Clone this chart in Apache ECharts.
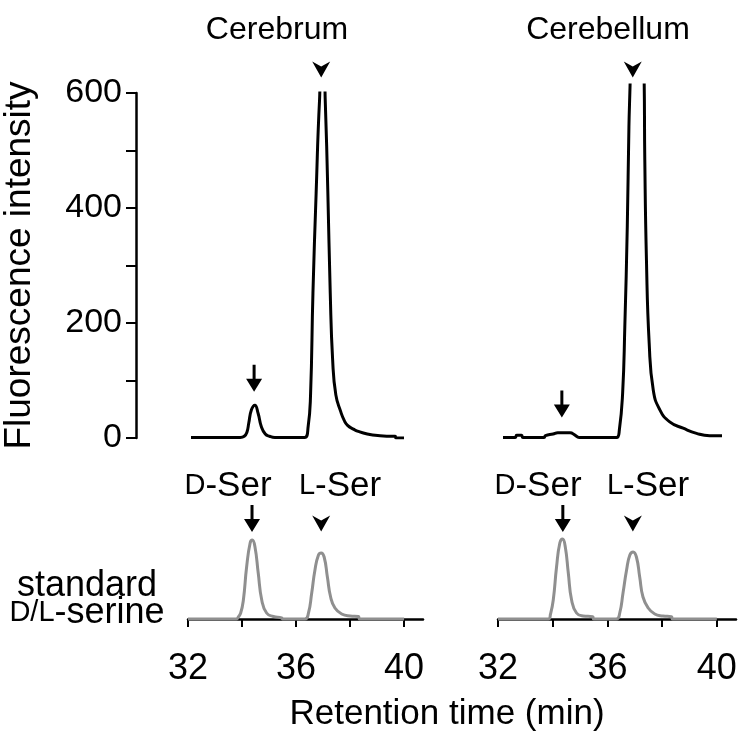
<!DOCTYPE html>
<html>
<head>
<meta charset="utf-8">
<script src="https://cdn.jsdelivr.net/npm/echarts@6/dist/echarts.min.js"></script>
<style>
html,body{margin:0;padding:0;background:#fff;}
#chart{width:748px;height:739px;}
</style>
</head>
<body>
<div id="chart"></div>
<script>
// ---- Data ----
const cerebrumTime   = [32.0, 33.85, 34.0, 34.1, 34.17, 34.27, 34.40, 34.52, 34.64, 34.79, 34.95, 35.15, 36.27, 36.40, 36.49, 36.58, 36.70, 36.83, 36.90, 37.00, 37.04, 37.14, 37.23, 37.32, 37.44, 37.63, 37.75, 37.88, 38.12, 38.25, 38.62, 39.1, 39.6, 39.67, 39.7, 40.0];
const cerebrumSignal = [1, 1, 3, 10, 26, 49, 57, 43, 20, 7, 3, 1, 1, 20, 75, 252, 426, 590, 615, 615, 590, 426, 252, 136, 75, 45, 31, 22, 15, 12, 7, 4, 3, 3, 0, 0];

const cerebellumTime   = [32.0, 32.45, 32.5, 32.68, 32.72, 33.5, 33.55, 33.83, 34.0, 34.45, 34.63, 34.78, 36.15, 36.25, 36.37, 36.45, 36.54, 36.60, 36.64, 36.90, 37.15, 37.18, 37.24, 37.34, 37.49, 37.73, 38.09, 38.58, 39.07, 39.55, 40.0];
const cerebellumSignal = [1, 1, 5, 5, 1, 1, 4, 7, 9, 9, 5, 1, 1, 14, 78, 194, 368, 541, 611, 1100, 640, 483, 310, 165, 83, 49, 28, 17, 8, 4, 4];

const standardLTime   = [32.0, 33.8, 33.85, 33.95, 34.05, 34.17, 34.30, 34.38, 34.48, 34.60, 34.73, 34.91, 35.16, 35.47, 35.5, 36.33, 36.46, 36.58, 36.70, 36.83, 36.93, 37.04, 37.16, 37.28, 37.44, 37.69, 38.0, 38.31, 38.35, 40.0];
const standardLSignal = [0, 0, 1.5, 6, 19, 52, 76, 79, 72, 46, 19, 6, 2.5, 1, 0, 0, 6, 26, 49, 64, 66, 62, 42, 22, 11, 5, 3, 2.5, 0, 0];

const standardRTime   = [32.0, 33.84, 33.92, 34.02, 34.14, 34.26, 34.36, 34.46, 34.57, 34.69, 34.87, 35.11, 35.46, 35.5, 36.33, 36.45, 36.57, 36.70, 36.82, 36.94, 37.06, 37.18, 37.30, 37.49, 37.73, 38.03, 38.34, 38.38, 40.0];
const standardRSignal = [0, 0, 5, 19, 52, 76, 80, 72, 46, 19, 6, 3, 2.3, 0, 0, 6, 26, 49, 64, 67, 62, 42, 22, 11, 5, 3, 2.3, 0, 0];

// arrow annotations (time, value) per panel
const dArrowTop  = [[34.37, 104], [34.15, 59]];
const lHeadTop   = [[36.89, 641], [36.74, 641]];
const dArrowStd  = [[34.37, 100.5], [34.37, 100.5]];
const lHeadStd   = [[36.93, 95.5], [36.93, 95.5]];

const yTicks = [0, 200, 400, 600];
const xTickValues = [32, 34, 36, 38, 40];
const xLabelValues = [32, 36, 40];

const panelTitles = ['Cerebrum', 'Cerebellum'];

// ---- Build ----
const zip = (a, b) => a.map((v, i) => [v, b[i]]);
const FONT = 'Liberation Sans';
const ARROW = 'path://M6.5,0 L9.5,0 L9.5,14 L16,14 L8,27 L0,14 L6.5,14 Z';
const HEAD = 'path://M0,0 L9,5 L18,0 L9,16 Z';

const chart = echarts.init(document.getElementById('chart'), null, {renderer: 'canvas'});

const hiddenX = (i) => ({gridIndex: i, type: 'value', min: 32, max: 40, show: false});
const bottomX = (i) => ({
  gridIndex: i, type: 'value', min: 32, max: 40.7, position: 'bottom',
  axisLine: {show: true, lineStyle: {color: '#000', width: 2.5}},
  axisTick: {show: true, inside: false, length: 8, lineStyle: {color: '#000', width: 2}, customValues: xTickValues},
  axisLabel: {show: true, margin: 10, color: '#000', fontFamily: FONT, fontSize: 36, customValues: xLabelValues},
  splitLine: {show: false}
});

const lineSeries = (xi, t, s, color) => ({
  type: 'line', xAxisIndex: xi, yAxisIndex: xi, data: zip(t, s),
  showSymbol: false, symbol: 'none', smooth: 0.5, clip: true,
  lineStyle: {color: color, width: 3}, silent: true, animation: false
});
const markSeries = (xi, pts, sym, size) => ({
  type: 'scatter', xAxisIndex: xi, yAxisIndex: xi, data: pts, clip: false,
  symbol: sym, symbolSize: size, itemStyle: {color: '#000', opacity: 1}, silent: true, animation: false
});

const txt = (x, y, text, size, rich) => ({
  type: 'text', x: x, y: y,
  style: Object.assign({text: text, fontFamily: FONT, fontSize: size, fill: '#000', align: 'center', verticalAlign: 'middle'},
    rich ? {rich: rich} : {})
});
const sc = (size) => ({sc: {fontFamily: FONT, fontSize: size, fill: '#000'}});

const option = {
  backgroundColor: '#fff',
  animation: false,
  grid: [
    {left: 188, top: 93, width: 216, height: 345},
    {left: 503, top: 85, width: 219, height: 353},
    {left: 188, top: 519, width: 235, height: 122},
    {left: 498, top: 519, width: 238, height: 122}
  ],
  xAxis: [hiddenX(0), hiddenX(1), bottomX(2), bottomX(3)],
  yAxis: [
    {
      gridIndex: 0, type: 'value', min: 0, max: 600, interval: 200, offset: 55,
      axisLine: {show: true, lineStyle: {color: '#000', width: 2.5}},
      axisTick: {show: true, inside: false, length: 10, lineStyle: {color: '#000', width: 2}},
      minorTick: {show: true, splitNumber: 2, length: 10, lineStyle: {color: '#000', width: 2}},
      axisLabel: {margin: 14, color: '#000', fontFamily: FONT, fontSize: 34,
        formatter: (v) => yTicks.includes(v) ? String(v) : ''},
      splitLine: {show: false}, minorSplitLine: {show: false},
      name: 'Fluorescence intensity', nameLocation: 'middle', nameGap: 98,
      nameTextStyle: {color: '#000', fontFamily: FONT, fontSize: 37}
    },
    {gridIndex: 1, type: 'value', min: 0, max: 614, show: false},
    {gridIndex: 2, type: 'value', min: -22, max: 100, show: false},
    {gridIndex: 3, type: 'value', min: -22, max: 100, show: false}
  ],
  series: [
    lineSeries(0, cerebrumTime, cerebrumSignal, '#000'),
    lineSeries(1, cerebellumTime, cerebellumSignal, '#000'),
    lineSeries(2, standardLTime, standardLSignal, '#8f8f8f'),
    lineSeries(3, standardRTime, standardRSignal, '#8f8f8f'),
    markSeries(0, [dArrowTop[0]], ARROW, [16, 27]),
    markSeries(1, [dArrowTop[1]], ARROW, [16, 27]),
    markSeries(0, [lHeadTop[0]], HEAD, [18, 16]),
    markSeries(1, [lHeadTop[1]], HEAD, [18, 16]),
    markSeries(2, [dArrowStd[0]], ARROW, [16, 27]),
    markSeries(3, [dArrowStd[1]], ARROW, [16, 27]),
    markSeries(2, [lHeadStd[0]], HEAD, [18, 16]),
    markSeries(3, [lHeadStd[1]], HEAD, [18, 16])
  ],
  graphic: [
    txt(277, 30, panelTitles[0], 32),
    txt(608, 30, panelTitles[1], 32),
    txt(447, 714, 'Retention time (min)', 35),
    txt(87, 586, 'standard', 36),
    txt(87, 613, '{sc|D/L}-serine', 36, sc(29)),
    txt(228, 486, '{sc|D}-Ser', 35, sc(29)),
    txt(340, 486, '{sc|L}-Ser', 35, sc(29)),
    txt(538, 486, '{sc|D}-Ser', 35, sc(29)),
    txt(648, 486, '{sc|L}-Ser', 35, sc(29))
  ]
};
chart.setOption(option);
</script>
</body>
</html>
